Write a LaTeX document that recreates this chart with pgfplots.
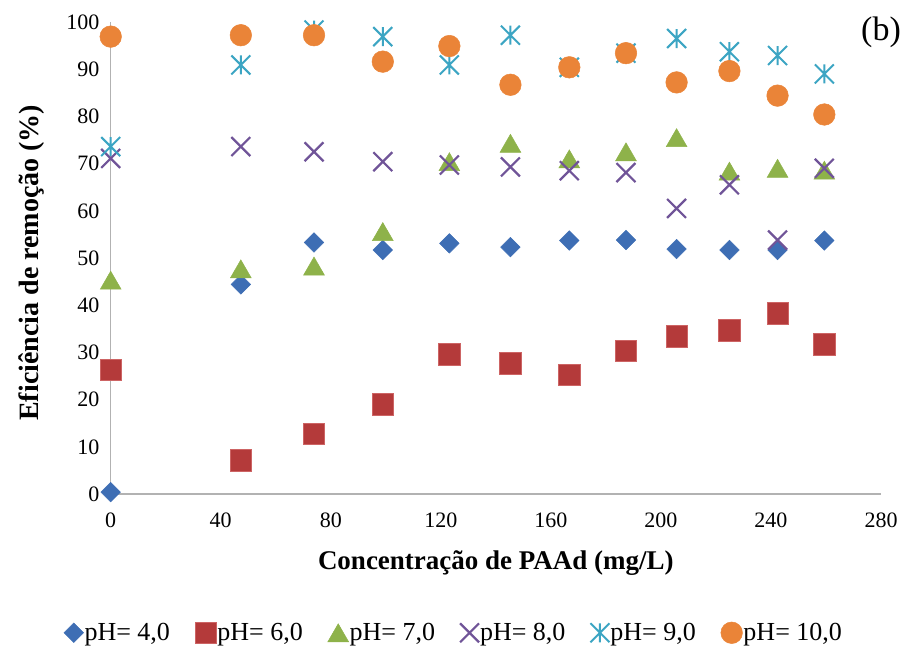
\documentclass[border=0pt]{standalone}
\usepackage{fontspec}
\setmainfont{Liberation Serif}
\usepackage{pgfplots}
\usepackage{pgfplotstable}
\pgfplotsset{compat=1.18}
\pgfdeclareplotmark{xstar}{%
  \pgfpathmoveto{\pgfqpoint{0pt}{\pgfplotmarksize}}%
  \pgfpathlineto{\pgfqpoint{0pt}{-\pgfplotmarksize}}%
  \pgfpathmoveto{\pgfqpoint{-\pgfplotmarksize}{-\pgfplotmarksize}}%
  \pgfpathlineto{\pgfqpoint{\pgfplotmarksize}{\pgfplotmarksize}}%
  \pgfpathmoveto{\pgfqpoint{-\pgfplotmarksize}{\pgfplotmarksize}}%
  \pgfpathlineto{\pgfqpoint{\pgfplotmarksize}{-\pgfplotmarksize}}%
  \pgfusepathqstroke}
\definecolor{cblue}{RGB}{62,110,180}
\definecolor{cred}{RGB}{180,58,58}
\definecolor{credl}{RGB}{205,100,100}
\definecolor{cgreen}{RGB}{142,178,74}
\definecolor{cpurple}{RGB}{112,84,152}
\definecolor{ccyan}{RGB}{60,165,195}
\definecolor{corange}{RGB}{234,132,56}
\definecolor{caxis}{RGB}{178,178,178}
\pgfplotstableread{
x a b c d e f
0 0.4 26.3 45.3 71.1 73.6 96.9
47.3 44.4 7.1 47.7 73.6 90.9 97.2
73.9 53.3 12.7 48.3 72.5 98.3 97.2
98.9 51.7 19.0 55.6 70.4 96.9 91.6
123.1 53.1 29.6 70.4 69.7 90.9 94.9
145.3 52.3 27.7 74.3 69.3 97.2 86.7
166.7 53.7 25.2 71.0 68.5 90.4 90.4
187.3 53.8 30.4 72.5 68.1 93.4 93.4
205.7 51.9 33.4 75.5 60.5 96.5 87.2
224.9 51.7 34.7 68.4 65.5 93.7 89.6
242.4 51.7 38.3 69.0 53.8 92.9 84.4
259.4 53.7 31.7 68.6 69.0 89.0 80.4
}\data
\begin{document}
\begin{tikzpicture}
\begin{axis}[
  name=ax,
  width=770.3pt, height=472pt, scale only axis,
  xmin=0, xmax=280, ymin=0, ymax=100,
  xtick={0,40,...,280}, ytick={0,10,...,100},
  axis x line*=bottom, axis y line*=left,
  axis line style={draw=caxis, line width=1.2pt},
  major tick length=0pt,
  clip=false,
  /pgf/number format/assume math mode=true,
  tick label style={font=\fontsize{22}{26}\selectfont},
  xticklabel style={inner sep=0pt, anchor=north, yshift=-19pt},
  yticklabel style={inner sep=0pt, anchor=east, xshift=-11pt},
  xlabel={Concentração de PAAd (mg/L)},
  ylabel={Eficiência de remoção (\%)},
  xlabel style={font=\bfseries\fontsize{27}{30}\selectfont, at={(axis description cs:0.5,-0.146)}, anchor=center},
  ylabel style={font=\bfseries\fontsize{28}{30}\selectfont, at={(axis description cs:-0.1026,0.49)}, anchor=center},
  legend columns=6,
  legend image code/.code={\draw[#1] plot coordinates {(0pt,0pt)};},
  legend style={at={(axis description cs:0.445,-0.294)}, anchor=center, draw=none, fill=none,
    font=\fontsize{26}{30}\selectfont,
    /tikz/every even column/.append style={column sep=24pt},
    nodes={inner xsep=1pt}},
]
\addplot[only marks, mark=square*, mark size=6.9pt, mark options={rotate=45, fill=cblue, draw=cblue, line width=0.5pt}] table[x=x,y=a] {\data};
\addlegendentry{pH= 4,0}
\addplot[only marks, mark=square*, mark size=10.7pt, mark options={fill=cred, draw=credl, line width=0.6pt}] table[x=x,y=b] {\data};
\addlegendentry{pH= 6,0}
\addplot[only marks, mark=triangle*, mark size=12pt, mark options={fill=cgreen, draw=cgreen, line width=0.5pt, yshift=-3pt}] table[x=x,y=c] {\data};
\addlegendentry{pH= 7,0}
\addplot[only marks, mark=x, mark size=13.4pt, mark options={draw=cpurple, line width=2.2pt}] table[x=x,y=d] {\data};
\addlegendentry{pH= 8,0}
\addplot[only marks, mark=xstar, mark size=9.5pt, mark options={draw=ccyan, line width=2pt}] table[x=x,y=e] {\data};
\addlegendentry{pH= 9,0}
\addplot[only marks, mark=*, mark size=10.8pt, mark options={fill=corange, draw=corange, line width=0.5pt}] table[x=x,y=f] {\data};
\addlegendentry{pH= 10,0}
\end{axis}
\node[font=\fontsize{34}{40}\selectfont, anchor=center] at ([xshift=0pt,yshift=-10pt]ax.north east) {(b)};
\pgfresetboundingbox
\path[use as bounding box] ([xshift=-110.7pt,yshift=-159pt]ax.south west) rectangle ([xshift=28pt,yshift=22pt]ax.north east);
\end{tikzpicture}
\end{document}
